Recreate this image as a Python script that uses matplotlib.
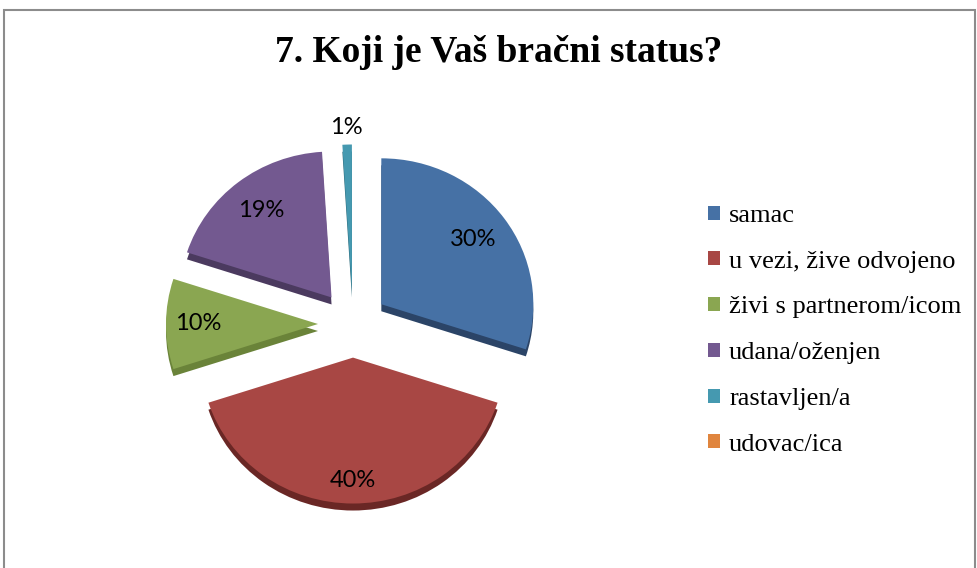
import matplotlib
matplotlib.use("Agg")
import matplotlib.pyplot as plt
from matplotlib.patches import Rectangle
import numpy as np

title = "7. Koji je Vaš bračni status?"
categories = ["samac", "u vezi, žive odvojeno", "živi s partnerom/icom",
              "udana/oženjen", "rastavljen/a", "udovac/ica"]
values = [30, 40, 10, 19, 1, 0]

colors = ["#4671A5", "#A84744", "#8AA651", "#735990", "#4599B0", "#E0853E"]
side_colors = ["#2B4467", "#6A2725", "#6A8339", "#4B3A5F", "#2D6A7A", "#A0602C"]

W, H = 978, 568
K = 0.96  # vertical squash (3D tilt)
fig = plt.figure(figsize=(W / 100, H / 100), dpi=100)
ax = fig.add_axes([0, 0, 1, 1])

cx, cy = 353, (H - 324) / K
R = 152
explode = [35] * len(values)   # pixel offset (data units = pixels)
depth = 7 / K
label_dist = [0.75, 0.84, 0.79, 0.75, 1.12, 0.75]

# side (3D depth)
ax.pie(values, colors=side_colors, startangle=90, counterclock=False,
       explode=explode, center=(cx, cy - depth), radius=R,
       wedgeprops=dict(linewidth=0), frame=True)

def fmt(p):
    return f"{p:.0f}%" if p >= 0.5 else ""

wedges, texts, autotexts = ax.pie(
    values, colors=colors, startangle=90, counterclock=False,
    explode=explode, center=(cx, cy), radius=R, autopct=fmt,
    pctdistance=0.75, wedgeprops=dict(linewidth=0), frame=True,
    textprops=dict(fontsize=17, family=["Lato", "DejaVu Sans"], color="black"))

for w, t, d in zip(wedges, autotexts, label_dist):
    th = np.deg2rad((w.theta1 + w.theta2) / 2)
    x0, y0 = w.center
    t.set_position((x0 + d * R * np.cos(th), y0 + d * R * np.sin(th)))

ax.set_xlim(0, W)
ax.set_ylim(0, H / K)
ax.set_aspect("auto")
ax.axis("off")

fig.add_artist(Rectangle((4 / W, -0.05), 971 / W, 1.05 - 10 / H, fill=False,
                         edgecolor="#8c8c8c", linewidth=1.5,
                         transform=fig.transFigure, clip_on=False))

fig.text(499 / W, 1 - 53 / H, title, ha="center", va="center",
         fontsize=27, fontweight="bold", family="Liberation Serif")

leg = fig.legend(wedges, categories, loc="upper left",
                 bbox_to_anchor=(708 / W, 1 - 205 / H),
                 frameon=False, handlelength=0.45, handleheight=0.45,
                 handletextpad=0.35, labelspacing=0.9, borderpad=0,
                 borderaxespad=0,
                 prop=dict(family="Liberation Serif", size=19))

fig.savefig("out.png", dpi=100)
